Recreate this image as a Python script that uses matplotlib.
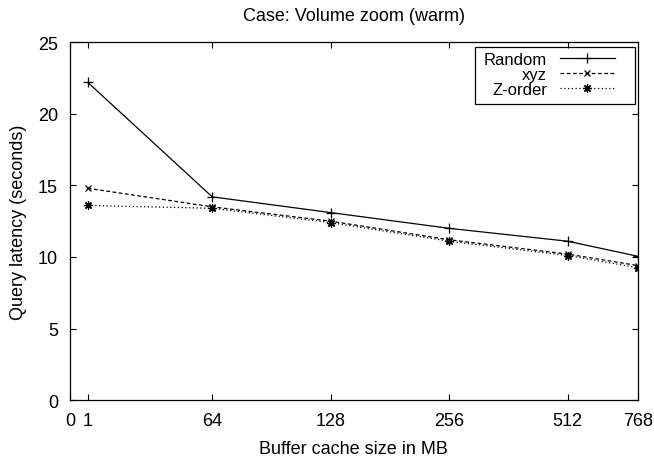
import matplotlib
matplotlib.use('Agg')
import matplotlib.pyplot as plt
from matplotlib.patches import Rectangle

plt.rcParams['font.family'] = ['Liberation Sans', 'DejaVu Sans']

# buffer cache sizes (MB) and their tick positions on the axis
cache_labels = ['0', '1', '64', '128', '256', '512', '768']
cache_pos = [0, 0.15, 1.2, 2.2, 3.2, 4.2, 4.79]

# query latency in seconds at 1, 64, 128, 256, 512, 768 MB
random_lat = [22.2, 14.2, 13.1, 12.0, 11.1, 10.05]
xyz_lat = [14.8, 13.5, 12.5, 11.2, 10.2, 9.4]
zorder_lat = [13.6, 13.4, 12.4, 11.1, 10.1, 9.25]


def draw_chart():
    fig = plt.figure(figsize=(6.54, 4.6), dpi=100)
    ax = fig.add_axes([0.107, 0.128, 0.868, 0.778])
    x = cache_pos[1:]
    ax.plot(x, random_lat, color='black', lw=0.9, marker='+', ms=7,
            mew=0.9, label='Random')
    ax.plot(x, xyz_lat, color='black', lw=0.9, ls=(0, (3, 2)), marker='x',
            ms=5, mew=0.9, label='xyz')
    ax.plot(x, zorder_lat, color='black', lw=0.9, ls=(0, (1, 2)),
            marker=(8, 2, 0), ms=6, mew=0.9, label='Z-order')

    ax.set_xlim(0, cache_pos[-1])
    ax.set_ylim(0, 25)
    ax.set_xticks(cache_pos)
    ax.set_xticklabels(cache_labels)
    ax.set_yticks([0, 5, 10, 15, 20, 25])
    ax.tick_params(direction='in', top=True, right=True, length=4,
                   width=0.8, labelsize=13, pad=8.6)
    for s in ax.spines.values():
        s.set_linewidth(0.9)

    ax.set_xlabel('Buffer cache size in MB', fontsize=13, labelpad=8)
    ax.set_ylabel('Query latency (seconds)', fontsize=13, labelpad=8)
    ax.set_title('Case: Volume zoom (warm)', fontsize=13, pad=16)

    # legend: text right-aligned, sample line on the right, boxed
    ax.legend(loc='upper right', bbox_to_anchor=(0.960, 0.974),
              markerfirst=False, fontsize=12, frameon=False,
              handlelength=3.3, handletextpad=0.78, labelspacing=0.0,
              borderpad=0, borderaxespad=0)
    ax.add_patch(Rectangle((0.7134, 0.8268), 0.2819, 0.1592,
                           transform=ax.transAxes, fill=False,
                           edgecolor='black', lw=0.9, zorder=5))

    fig.savefig('out.png', dpi=100)


if __name__ == '__main__':
    draw_chart()
